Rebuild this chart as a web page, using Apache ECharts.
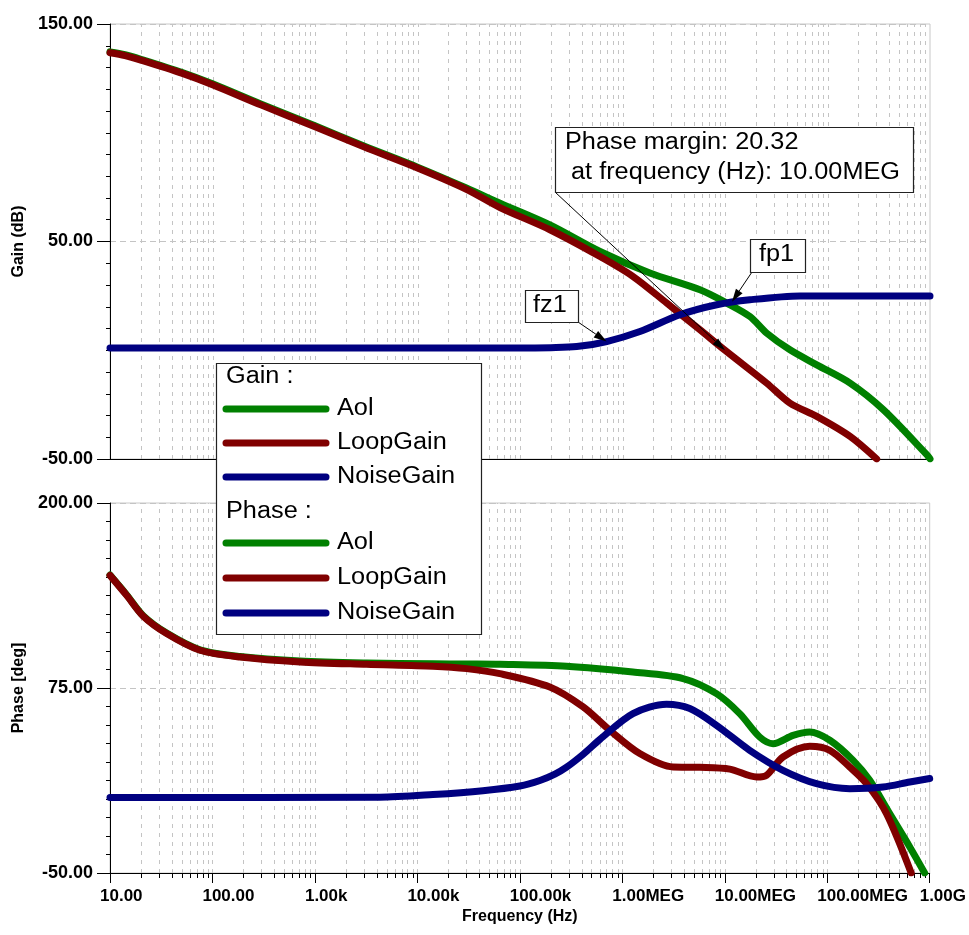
<!DOCTYPE html>
<html>
<head>
<meta charset="utf-8">
<script src="https://cdn.jsdelivr.net/npm/echarts@6/dist/echarts.min.js"></script>
<style>
html,body{margin:0;padding:0;background:#fff;}
#chart{width:969px;height:935px;}
</style>
</head>
<body>
<div id="chart"></div>
<script>
// ---------- data (frequency in Hz, value) ----------
const freqTickLabels = ['10.00','100.00','1.00k','10.00k','100.00k','1.00MEG','10.00MEG','100.00MEG','1.00G'];

const aolGain = [[10,137.2],[14,135.9],[20,133.8],[50,127.8],[100,122.5],[300,113.1],[1e3,103.2],[3e3,93.9],[1e4,84.2],[3e4,74.6],[63.8e3,67.6],[196e3,57.6],[603e3,45.4],[1.85e6,35.5],[5.7e6,27.8],[10.4e6,21.7],[17.5e6,15.5],[25.5e6,7.9],[43e6,0.2],[78.5e6,-6.7],[166e6,-15.1],[350e6,-27.3],[930e6,-48.0],[1e9,-49.9]];
const loopGain = [[10,136.8],[14,135.5],[20,133.4],[50,127.4],[100,122.1],[300,112.7],[1e3,102.8],[3e3,93.5],[1e4,83.8],[3e4,74.0],[63.8e3,65.6],[196e3,55.4],[603e3,43.1],[1.27e6,33.9],[2.7e6,21.7],[5.7e6,9.4],[1e7,0],[25.5e6,-15.1],[43e6,-24.3],[78.5e6,-30.4],[166e6,-39.6],[302e6,-50]];
const noiseGain = [[10,1.0],[1e5,1.0],[200e3,1.2],[357e3,1.7],[701e3,4.0],[1.48e6,8.6],[3.64e6,16.3],[8.3e6,20.9],[17.5e6,23.2],[54e6,25.0],[1e9,25.0]];

const aolPhase = [[10,151.3],[14.55,137.9],[21.1,123.8],[35.7,112.1],[75.5,100.8],[185,96.3],[714,93.2],[3.19e3,91.9],[14.2e3,91.4],[30.2e3,91.2],[63.8e3,91.0],[286e3,89.7],[1.27e6,85.8],[3.92e6,81.4],[8.3e6,71.2],[14e6,57.7],[21.9e6,41.9],[29.6e6,37.4],[46.4e6,43.0],[67.5e6,45.3],[106e6,39.7],[179e6,26.1],[260e6,12.6],[407e6,-9.9],[639e6,-32.4],[893e6,-50]];
const loopPhase = [[10,151.1],[14.55,137.6],[21.1,123.5],[35.7,111.8],[75.5,100.5],[185,95.9],[714,92.6],[3.19e3,91.0],[14.2e3,89.7],[30.2e3,88.1],[63.8e3,84.7],[196e3,75.7],[415e3,62.2],[755e3,46.4],[1.48e6,30.7],[3.13e6,21.6],[5.7e6,21.4],[11.2e6,20.2],[20.4e6,14.9],[25.5e6,16.0],[37e6,28.4],[67.5e6,35.6],[106e6,32.9],[166e6,21.6],[242e6,10.4],[379e6,-9.9],[660e6,-50]];
const noisePhase = [[10,1.0],[4.3e3,1.2],[14.2e3,3.0],[43.6e3,5.6],[100e3,8.8],[157e3,12.5],[220e3,16.8],[286e3,21.5],[420e3,30.5],[603e3,40.2],[1.27e6,57.7],[2.7e6,64.0],[4.56e6,61.1],[8.3e6,49.8],[17.5e6,32.9],[37e6,19.4],[78.5e6,10.4],[166e6,7.0],[350e6,8.1],[639e6,11.5],[1e9,13.8]];

// annotation anchors (data coordinates on the gain plot)
const pmTip = [1e7, 0];
const fz1Tip = [7e5, 4];
const fp1Tip = [1.17e7, 22.3];

// ---------- helpers ----------
const FONT = '"Liberation Sans", Arial, sans-serif';
const GREEN = '#008000', MAROON = '#800000', NAVY = '#000080';
const GRIDC = '#c4c4c4';

const gridFreqs = [];
for (let d = 1; d <= 8; d++) for (let m = 1; m <= 9; m++) {
  if (m === 1 && d === 1) continue;
  gridFreqs.push(m * Math.pow(10, d));
}

function gridLineSeries(gi, ymin, ymax, withTicks) {
  return {
    type: 'custom', xAxisIndex: gi, yAxisIndex: gi, z: 1, silent: true, clip: false,
    data: gridFreqs.map(f => [f, ymin]),
    renderItem: function (params, api) {
      const f = api.value(0);
      const p0 = api.coord([f, ymin]);
      const p1 = api.coord([f, ymax]);
      const x = Math.round(p0[0]) + 0.5;
      const isMajor = Math.abs(Math.log10(f) - Math.round(Math.log10(f))) < 1e-6;
      const children = [{
        type: 'line', shape: {x1: x, y1: p0[1], x2: x, y2: p1[1]},
        style: {stroke: GRIDC, lineWidth: 1, lineDash: [4, 5]}
      }];
      if (withTicks && !isMajor) {
        children.push({type: 'line', shape: {x1: x, y1: p0[1], x2: x, y2: p0[1] + 5},
          style: {stroke: '#000', lineWidth: 1}});
      }
      return {type: 'group', children: children};
    }
  };
}

function lineSeries(gi, data, color) {
  return {
    type: 'line', xAxisIndex: gi, yAxisIndex: gi, data: data, showSymbol: false,
    smooth: 0.3, z: 3, silent: true,
    lineStyle: {color: color, width: 7, cap: 'round', join: 'round'}
  };
}

const xAxisBase = {
  type: 'log', logBase: 10, min: 10, max: 1e9, splitNumber: 8,
  axisLine: {show: true, onZero: false, lineStyle: {color: '#000', width: 1}},
  splitLine: {show: false},
  minorTick: {show: false}
};

const yAxisBase = {
  type: 'value',
  axisLine: {show: true, onZero: false, lineStyle: {color: '#000', width: 1}},
  axisTick: {show: true, length: 13, lineStyle: {color: '#000'}},
  minorTick: {show: true, splitNumber: 10, length: 4, lineStyle: {color: '#000'}},
  axisLabel: {margin: 17, color: '#000', fontWeight: 'bold', fontSize: 18, fontFamily: FONT,
    formatter: v => v.toFixed(2)},
  splitLine: {show: true, lineStyle: {color: GRIDC, type: [6, 4], width: 1}},
  nameLocation: 'middle', nameGap: 72,
  nameTextStyle: {color: '#000', fontWeight: 'bold', fontSize: 16, fontFamily: FONT}
};

const chart = echarts.init(document.getElementById('chart'), null, {renderer: 'canvas'});

chart.setOption({
  animation: false,
  backgroundColor: '#fff',
  grid: [
    {left: 110, top: 24, width: 820, height: 435, show: true, borderColor: '#c8c8c8', borderWidth: 1, backgroundColor: 'transparent'},
    {left: 110, top: 503, width: 820, height: 370, show: true, borderColor: '#c8c8c8', borderWidth: 1, backgroundColor: 'transparent'}
  ],
  xAxis: [
    Object.assign({}, xAxisBase, {gridIndex: 0, axisTick: {show: false}, axisLabel: {show: false}}),
    Object.assign({}, xAxisBase, {gridIndex: 1,
      axisTick: {show: true, length: 10, lineStyle: {color: '#000'}},
      axisLabel: {show: true, color: '#000', fontWeight: 'bold', fontSize: 17, fontFamily: FONT,
        margin: 15, align: 'left', padding: [0, 0, 0, -10],
        formatter: v => freqTickLabels[Math.round(Math.log10(v)) - 1] || ''},
      name: 'Frequency (Hz)', nameLocation: 'middle', nameGap: 36,
      nameTextStyle: {color: '#000', fontWeight: 'bold', fontSize: 16, fontFamily: FONT}})
  ],
  yAxis: [
    Object.assign({}, yAxisBase, {gridIndex: 0, min: -50, max: 150, interval: 100, name: 'Gain (dB)'}),
    Object.assign({}, yAxisBase, {gridIndex: 1, min: -50, max: 200, interval: 125, name: 'Phase [deg]'})
  ],
  series: [
    gridLineSeries(0, -50, 150, false),
    gridLineSeries(1, -50, 200, true),
    lineSeries(0, aolGain, GREEN),
    lineSeries(0, loopGain, MAROON),
    lineSeries(0, noiseGain, NAVY),
    lineSeries(1, aolPhase, GREEN),
    lineSeries(1, loopPhase, MAROON),
    lineSeries(1, noisePhase, NAVY)
  ]
});

// ---------- annotations & legend ----------
function toPx(pt) { return chart.convertToPixel({xAxisIndex: 0, yAxisIndex: 0}, pt); }

function arrow(from, tip) {
  const dx = tip[0] - from[0], dy = tip[1] - from[1];
  const len = Math.sqrt(dx * dx + dy * dy);
  const ux = dx / len, uy = dy / len;
  const hl = 13, hw = 4;
  const bx = tip[0] - ux * hl, by = tip[1] - uy * hl;
  return [
    {type: 'line', z: 100, shape: {x1: from[0], y1: from[1], x2: bx, y2: by}, style: {stroke: '#000', lineWidth: 1}},
    {type: 'polygon', z: 100, shape: {points: [[tip[0], tip[1]], [bx - uy * hw, by + ux * hw], [bx + uy * hw, by - ux * hw]]},
      style: {fill: '#000'}}
  ];
}

function boxRect(x, y, w, h) {
  return {type: 'rect', z: 100, shape: {x: x + 0.5, y: y + 0.5, width: w, height: h},
    style: {fill: '#fff', stroke: '#222', lineWidth: 1.2}};
}

function txt(x, y, s) {
  return {type: 'text', z: 101, x: x, y: y, scaleX: 1.1, scaleY: 1,
    style: {text: s, fill: '#000', font: '23px ' + FONT, verticalAlign: 'middle'}};
}

function legendLine(y, color) {
  return {type: 'line', z: 101, shape: {x1: 226, y1: y, x2: 326, y2: y},
    style: {stroke: color, lineWidth: 7, lineCap: 'round'}};
}

const pmPx = toPx(pmTip), fz1Px = toPx(fz1Tip), fp1Px = toPx(fp1Tip);

const elements = [];
// phase margin box
elements.push(...arrow([555, 192], pmPx));
elements.push(boxRect(555, 127, 358, 65));
elements.push(txt(565, 143, 'Phase margin: 20.32'));
elements.push(txt(571, 173, 'at frequency (Hz): 10.00MEG'));
// fz1
elements.push(...arrow([578, 322], fz1Px));
elements.push(boxRect(525, 290, 53, 32));
elements.push(txt(533, 306, 'fz1'));
// fp1
elements.push(...arrow([752, 272], fp1Px));
elements.push(boxRect(750, 239, 55, 33));
elements.push(txt(759, 255, 'fp1'));

// legend
elements.push(boxRect(216, 363, 265, 271));
const legendRows = [
  {y: 377, title: 'Gain :'},
  {y: 409, name: 'Aol', color: GREEN},
  {y: 443, name: 'LoopGain', color: MAROON},
  {y: 477, name: 'NoiseGain', color: NAVY},
  {y: 512, title: 'Phase :'},
  {y: 543, name: 'Aol', color: GREEN},
  {y: 578, name: 'LoopGain', color: MAROON},
  {y: 613, name: 'NoiseGain', color: NAVY}
];
legendRows.forEach(r => {
  if (r.title) {
    elements.push(txt(226, r.y, r.title));
  } else {
    elements.push(legendLine(r.y, r.color));
    elements.push(txt(337, r.y, r.name));
  }
});

chart.setOption({graphic: {elements: elements}});
</script>
</body>
</html>
